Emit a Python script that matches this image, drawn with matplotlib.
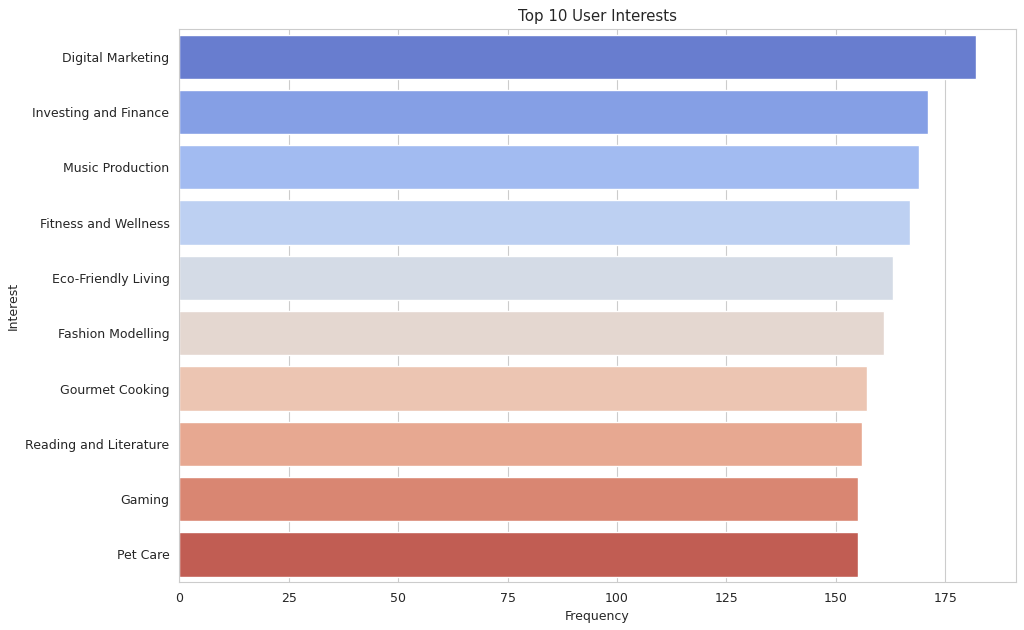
import matplotlib
matplotlib.use("Agg")
import matplotlib.pyplot as plt
import seaborn as sns
import pandas as pd

# Top 10 interests and their counts
interests = [
    "Digital Marketing",
    "Investing and Finance",
    "Music Production",
    "Fitness and Wellness",
    "Eco-Friendly Living",
    "Fashion Modelling",
    "Gourmet Cooking",
    "Reading and Literature",
    "Gaming",
    "Pet Care",
]
frequency = [182, 171, 169, 167, 163, 161, 157, 156, 155, 155]

df = pd.DataFrame({"Interest": interests, "Frequency": frequency})

sns.set_style("whitegrid")
plt.rcParams.update({
    "font.size": 9,
    "xtick.labelsize": 9,
    "ytick.labelsize": 9,
    "axes.labelsize": 9,
    "axes.titlesize": 10.8,
})

fig, ax = plt.subplots(figsize=(10.24, 6.3), dpi=100)
sns.barplot(data=df, x="Frequency", y="Interest", hue="Interest",
            palette="coolwarm", legend=False, ax=ax)
ax.set_title("Top 10 User Interests")
ax.set_xlabel("Frequency")
ax.set_ylabel("Interest")
fig.subplots_adjust(left=0.175, right=0.992, top=0.954, bottom=0.076)
plt.savefig("out.png", dpi=100)
